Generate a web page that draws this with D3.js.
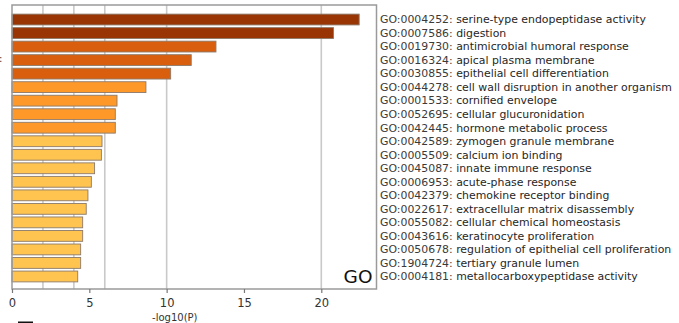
<!DOCTYPE html>
<html>
<head>
<meta charset="utf-8">
<script src="https://cdn.jsdelivr.net/npm/d3@7"></script>
<style>
  html, body { margin: 0; padding: 0; background: #fff; }
  svg { display: block; font-family: "DejaVu Sans", sans-serif; }
</style>
</head>
<body>
<svg id="chart" width="679" height="323"></svg>
<script>
// GO enrichment terms, most significant first
const termIds = [
  "GO:0004252", "GO:0007586", "GO:0019730", "GO:0016324", "GO:0030855",
  "GO:0044278", "GO:0001533", "GO:0052695", "GO:0042445", "GO:0042589",
  "GO:0005509", "GO:0045087", "GO:0006953", "GO:0042379", "GO:0022617",
  "GO:0055082", "GO:0043616", "GO:0050678", "GO:1904724", "GO:0004181"
];
const termNames = [
  "serine-type endopeptidase activity", "digestion", "antimicrobial humoral response",
  "apical plasma membrane", "epithelial cell differentiation",
  "cell wall disruption in another organism", "cornified envelope",
  "cellular glucuronidation", "hormone metabolic process", "zymogen granule membrane",
  "calcium ion binding", "innate immune response", "acute-phase response",
  "chemokine receptor binding", "extracellular matrix disassembly",
  "cellular chemical homeostasis", "keratinocyte proliferation",
  "regulation of epithelial cell proliferation", "tertiary granule lumen",
  "metallocarboxypeptidase activity"
];
// -log10(P) per term
const logP = [
  22.45, 20.79, 13.19, 11.59, 10.26,
  8.66, 6.79, 6.68, 6.68, 5.82,
  5.78, 5.34, 5.13, 4.91, 4.80,
  4.57, 4.57, 4.44, 4.44, 4.25
];
const xTicks = [0, 5, 10, 15, 20];
const gridValues = [2, 4, 6, 10, 20];

const svg = d3.select("#chart");
const plotLeft = 12, plotRight = 376.5, plotTop = 5, plotBottom = 289;

const x = d3.scaleLinear().domain([0, 23.57]).range([plotLeft, plotRight]);
const y = d3.scaleBand().domain(d3.range(logP.length))
  .range([plotTop + 1, plotBottom + 1]).paddingInner(0.2).paddingOuter(0.6);

// colour steps by significance
const color = v => v > 20 ? "#993404" : v > 10 ? "#d95f0e" : v > 6 ? "#fe9929" : "#fec44f";

// vertical reference lines behind the bars
svg.append("g").selectAll("line").data(gridValues).join("line")
  .attr("x1", d => x(d)).attr("x2", d => x(d))
  .attr("y1", plotTop).attr("y2", plotBottom)
  .attr("stroke", "#c9c9c9").attr("stroke-width", 1.6);

// bars
svg.append("g").selectAll("rect").data(logP).join("rect")
  .attr("x", x(0))
  .attr("y", (d, i) => y(i))
  .attr("width", d => x(d) - x(0))
  .attr("height", y.bandwidth())
  .attr("fill", d => color(d))
  .attr("stroke", "#8c7a6b").attr("stroke-width", 0.9);

// plot frame
svg.append("rect")
  .attr("x", plotLeft).attr("y", plotTop)
  .attr("width", plotRight - plotLeft).attr("height", plotBottom - plotTop)
  .attr("fill", "none").attr("stroke", "#9a9a9a").attr("stroke-width", 1.5);

// bottom axis
const axis = svg.append("g")
  .attr("transform", `translate(0,${plotBottom})`)
  .call(d3.axisBottom(x).tickValues(xTicks).tickSize(4).tickPadding(6).tickFormat(d3.format("d")));
axis.select(".domain").remove();
axis.selectAll(".tick line").attr("stroke", "#777").attr("stroke-width", 1.2);
axis.selectAll(".tick text")
  .attr("fill", "#333").attr("font-size", 11.5)
  .attr("font-family", "DejaVu Sans, sans-serif");

svg.append("text")
  .attr("x", (x(0) + x(21.7)) / 2 - 5).attr("y", 321)
  .attr("text-anchor", "middle").attr("font-size", 10).attr("fill", "#333")
  .text("-log10(P)");

// category tag inside plot
svg.append("text")
  .attr("x", plotRight - 4).attr("y", 283)
  .attr("text-anchor", "end").attr("font-size", 18.5).attr("fill", "#111")
  .text("GO");

// term labels
const labels = svg.append("g").selectAll("text").data(termIds).join("text")
  .attr("x", 380)
  .attr("y", (d, i) => y(i) + y.bandwidth() / 2)
  .attr("dy", "0.35em")
  .attr("font-size", 10.9)
  .attr("fill", "#262626");
labels.append("tspan").attr("fill", "#3a3a3a").text(d => d + ": ");
labels.append("tspan").text((d, i) => termNames[i]);

// fragments of neighbouring content at the edges
svg.append("text").attr("x", -1).attr("y", 62).attr("font-size", 10).attr("fill", "#333").text(":");
svg.append("rect").attr("x", 18).attr("y", 321.5).attr("width", 15).attr("height", 2).attr("fill", "#111");
</script>
</body>
</html>
